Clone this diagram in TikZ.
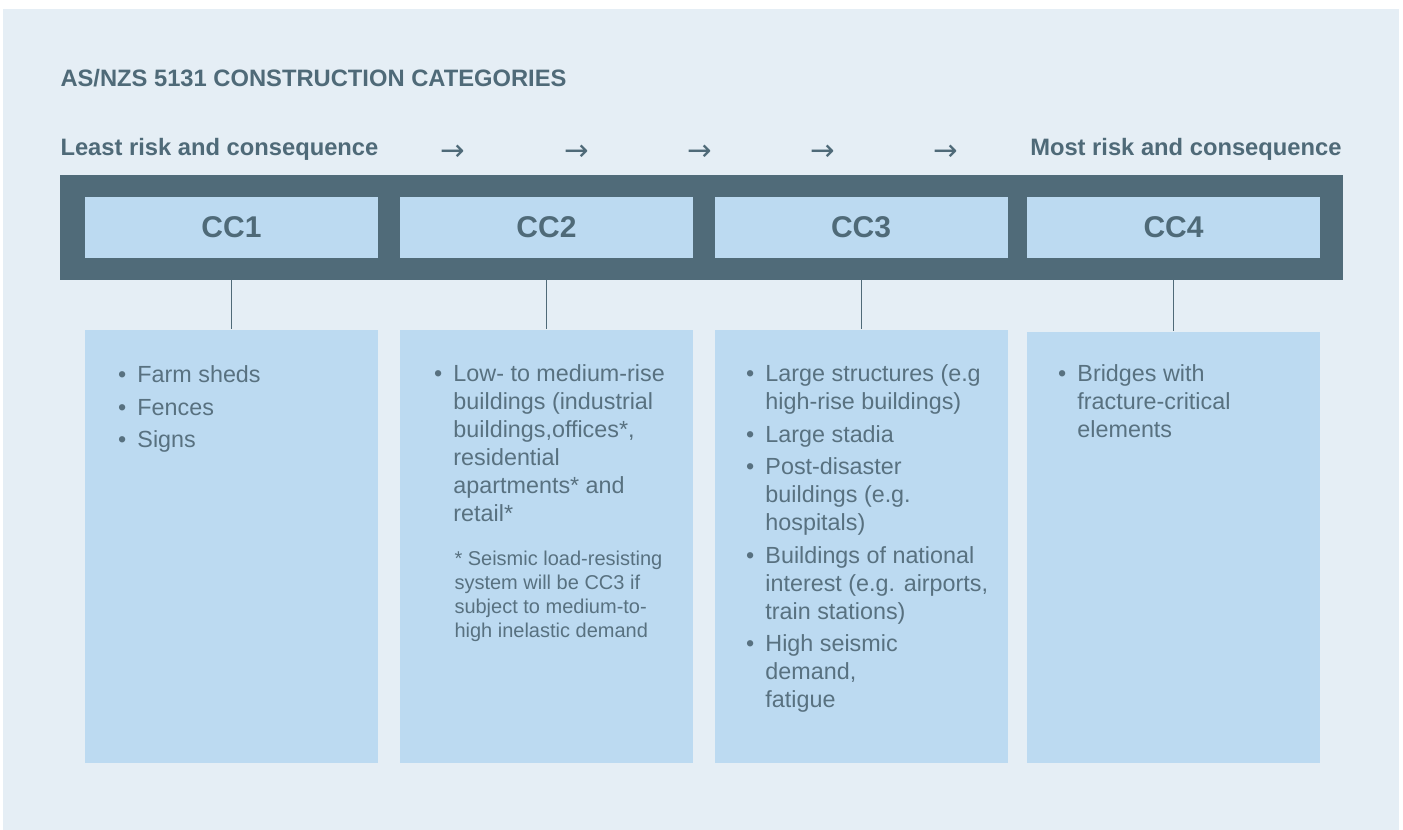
\documentclass[tikz,border=0pt]{standalone}
\usepackage{fontspec}
\setmainfont{Liberation Sans}
\newfontfamily\arrowfont{DejaVu Sans}

\definecolor{panelbg}{HTML}{E5EEF5}
\definecolor{barslate}{HTML}{506B79}
\definecolor{boxblue}{HTML}{BCDAF1}
\definecolor{inkslate}{HTML}{4F6A78}
\definecolor{bodyslate}{HTML}{587180}

\newcommand{\bulletcell}{\makebox[14.6pt][l]{\textbullet}}

\tikzset{every picture/.style={line width=0.75pt}}
\tikzset{
  headtext/.style={inner sep=0pt, text=inkslate, font=\fontsize{17.8}{21}\selectfont\bfseries},
  arrowtext/.style={anchor=base, inner sep=0pt, text=inkslate, font=\fontsize{22}{24}\selectfont\arrowfont},
  catbar/.style={fill=barslate, inner sep=0pt, minimum width=962.25pt, minimum height=78.75pt},
  catbox/.style={fill=boxblue, inner sep=0pt, minimum width=219.75pt, minimum height=45.75pt, text=inkslate, font=\fontsize{22.5}{27}\selectfont\bfseries},
  listbox/.style={fill=boxblue, inner sep=0pt, minimum width=219.75pt, minimum height=324.75pt},
  listtext/.style={anchor=base west, inner sep=0pt, text=bodyslate, font=\fontsize{17.5}{21}\selectfont},
  notetext/.style={anchor=base west, inner sep=0pt, text=bodyslate, font=\fontsize{15}{18}\selectfont},
  stem/.style={draw=inkslate, line width=0.75pt}
}

\begin{document}
\begin{tikzpicture}[x=0.75pt,y=0.75pt,yscale=-1,xscale=1]
	\useasboundingbox (0,0) rectangle (1403,830);

	%Shape: Rectangle
	\fill [panelbg] (3,9) rectangle (1399,830);

	% Text Node
	\node [headtext, anchor=base west] (title) at (60,87) {AS/NZS 5131 CONSTRUCTION CATEGORIES};
	% Text Node
	\node [headtext, anchor=base west] (least) at (60,156) {Least risk and consequence};
	% Text Node
	\node [headtext, anchor=base east] (most) at (1342,156) {Most risk and consequence};
	% Text Node
	\node [arrowtext] (arr1) at (453,161) {→};
	\node [arrowtext] (arr2) at (577,161) {→};
	\node [arrowtext] (arr3) at (700,161) {→};
	\node [arrowtext] (arr4) at (823,161) {→};
	\node [arrowtext] (arr5) at (946,161) {→};

	%Shape: Rectangle
	\node [catbar] (bar) at (701.5,227.5) {};
	%Shape: Rectangle
	\node [catbox] (cc1) at (231.5,227.5) {CC1};
	\node [catbox] (cc2) at (546.5,227.5) {CC2};
	\node [catbox] (cc3) at (861,227.5) {CC3};
	\node [catbox] (cc4) at (1173.5,227.5) {CC4};

	%Shape: Rectangle
	\node [listbox] (box1) at (231.5,546.5) {};
	\node [listbox] (box2) at (546.5,546.5) {};
	\node [listbox] (box3) at (861,546.5) {};
	\node [listbox, minimum height=323.25pt] (box4) at (1173.5,547.5) {};

	%Straight Lines
	\draw [stem] (bar.south -| box1.north) -- (box1.north);
	\draw [stem] (bar.south -| box2.north) -- (box2.north);
	\draw [stem] (bar.south -| box3.north) -- (box3.north);
	\draw [stem] (bar.south -| box4.north) -- (box4.north);

	% Text Node
	\node [listtext] (items1) at (117.5,383) {\begin{tabular}[t]{@{}l@{}l@{}}
		\bulletcell & Farm sheds\\[3.3pt]
		\bulletcell & Fences\\[3.3pt]
		\bulletcell & Signs
	\end{tabular}};
	% Text Node
	\node [listtext] (items2) at (433.5,382) {\begin{tabular}[t]{@{}l@{}l@{}}
		\bulletcell & Low- to medium-rise\\
		& buildings (industrial\\
		& buildings,offices*,\\
		& residential\\
		& apartments* and\\
		& retail*
	\end{tabular}};
	% Text Node
	\node [notetext] (note2) at (454,565) {\begin{tabular}[t]{@{}l@{}}
		* Seismic load-resisting\\
		system will be CC3 if\\
		subject to medium-to-\\
		high inelastic demand
	\end{tabular}};
	% Text Node
	\node [listtext] (items3) at (745.5,382) {\begin{tabular}[t]{@{}l@{}l@{}}
		\bulletcell & Large structures (e.g\\
		& high-rise buildings)\\[3.3pt]
		\bulletcell & Large stadia\\[3.3pt]
		\bulletcell & Post-disaster\\
		& buildings (e.g.\\
		& hospitals)\\[3.3pt]
		\bulletcell & Buildings of national\\
		& interest (e.g. airports,\\
		& train stations)\\[3.3pt]
		\bulletcell & High seismic\\
		& demand,\\
		& fatigue
	\end{tabular}};
	% Text Node
	\node [listtext] (items4) at (1057.5,382) {\begin{tabular}[t]{@{}l@{}l@{}}
		\bulletcell & Bridges with\\
		& fracture-critical\\
		& elements
	\end{tabular}};
\end{tikzpicture}
\end{document}
